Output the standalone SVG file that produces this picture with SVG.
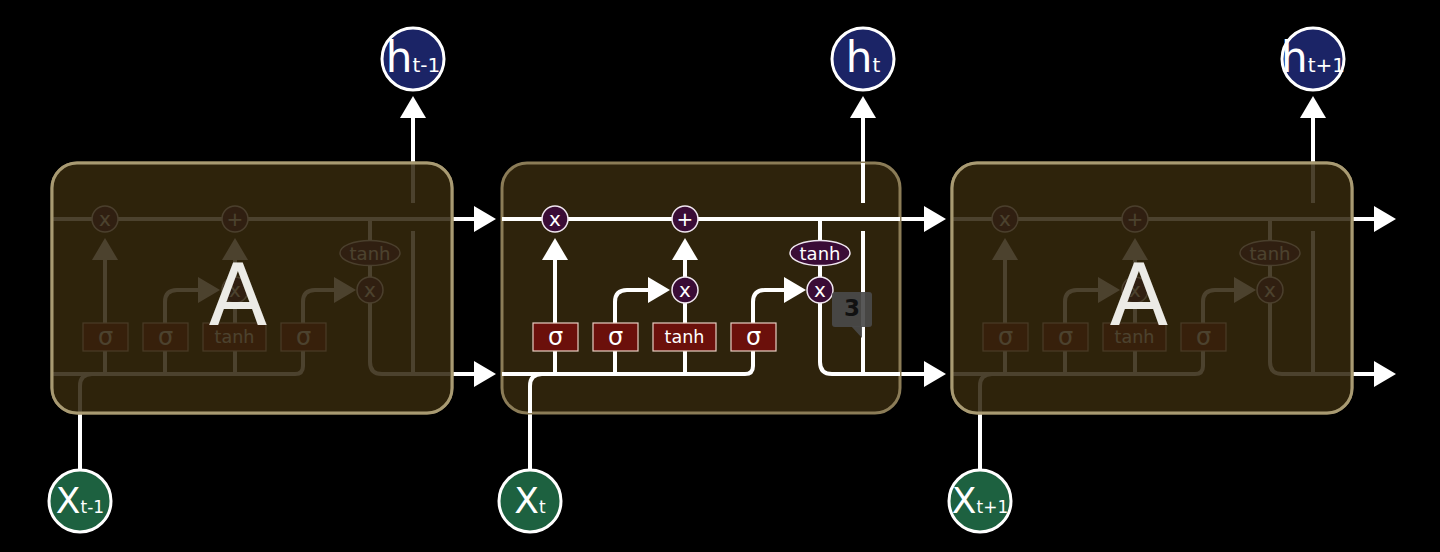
<svg xmlns="http://www.w3.org/2000/svg" width="1440" height="552" viewBox="0 0 1440 552">
<style>
.ln{fill:none;stroke:#fff;stroke-width:4}
.op{fill:#3a0c36;stroke:#f0e6f0;stroke-width:1.5}
.gate{fill:#6b100b;stroke:#e8cfc4;stroke-width:1.2}
.t{font-family:"DejaVu Sans","Liberation Sans",sans-serif;fill:#fff;text-anchor:middle}
.cell{fill:#2e230c;stroke:#8b7c57;stroke-width:3}
.veil{fill:#2e230c;fill-opacity:.86;stroke:#a89a72;stroke-width:3}
.hc{fill:#1b2466;stroke:#fff;stroke-width:3}
.xc{fill:#1d6140;stroke:#fff;stroke-width:3}
.big{font-size:86px;fill:#ecebe6}
</style>
<defs>
<marker id="ah" markerUnits="userSpaceOnUse" markerWidth="22" markerHeight="26" viewBox="0 0 22 26" refX="1" refY="13" orient="auto"><path d="M0,0 L22,13 L0,26 Z" fill="#fff"/></marker>
<g id="core">
<path class="ln" d="M502,219 H900"/>
<path class="ln" d="M502,374 H745 Q753,374 753,366 V351"/>
<path class="ln" d="M530,413 V386 Q530,374 542,374"/>
<path class="ln" d="M555,374 V351 M615,374 V351 M685,374 V351 M685,323 V303"/>
<path class="ln" d="M555,323 V259" marker-end="url(#ah)"/>
<path class="ln" d="M615,323 V302 Q615,290 627,290 H649" marker-end="url(#ah)"/>
<path class="ln" d="M685,277 V259" marker-end="url(#ah)"/>
<path class="ln" d="M753,323 V302 Q753,290 765,290 H785" marker-end="url(#ah)"/>
<path class="ln" d="M820,219 V241 M820,265 V277"/>
<path class="ln" d="M820,303 V362 Q820,374 832,374 H900"/>
<path class="ln" d="M863,374 V231 M863,203 V163"/>
<g id="op-forget"><circle class="op" cx="555" cy="219" r="13"/><text class="t" x="555" y="226" font-size="20">x</text></g>
<g id="op-add"><circle class="op" cx="685" cy="219" r="13"/><text class="t" x="685" y="226" font-size="20">+</text></g>
<g id="op-input"><circle class="op" cx="685" cy="290" r="13"/><text class="t" x="685" y="297" font-size="20">x</text></g>
<g id="op-output"><circle class="op" cx="820" cy="290" r="13"/><text class="t" x="820" y="297" font-size="20">x</text></g>
<g id="op-tanh"><ellipse class="op" cx="820" cy="253" rx="30" ry="12.5"/><text class="t" x="820" y="260" font-size="18">tanh</text></g>
<g id="gate-f"><rect class="gate" x="533" y="323" width="45" height="28"/><text class="t" x="555.5" y="345" font-size="24">σ</text></g>
<g id="gate-i"><rect class="gate" x="593" y="323" width="45" height="28"/><text class="t" x="615.5" y="345" font-size="24">σ</text></g>
<g id="gate-c"><rect class="gate" x="653" y="323" width="63" height="28"/><text class="t" x="684.5" y="343" font-size="17.5">tanh</text></g>
<g id="gate-o"><rect class="gate" x="731" y="323" width="45" height="28"/><text class="t" x="753.5" y="345" font-size="24">σ</text></g>
</g>
</defs>
<rect width="1440" height="552" fill="#000"/>

<g id="connectors">
<path class="ln" d="M80,470 V413 M530,470 V413 M980,470 V413"/>
<path class="ln" d="M413,163 V117" marker-end="url(#ah)"/>
<path class="ln" d="M863,163 V117" marker-end="url(#ah)"/>
<path class="ln" d="M1313,163 V117" marker-end="url(#ah)"/>
<path class="ln" d="M450,219 H475" marker-end="url(#ah)"/>
<path class="ln" d="M450,374 H475" marker-end="url(#ah)"/>
<path class="ln" d="M900,219 H925" marker-end="url(#ah)"/>
<path class="ln" d="M900,374 H925" marker-end="url(#ah)"/>
<path class="ln" d="M1350,219 H1375" marker-end="url(#ah)"/>
<path class="ln" d="M1350,374 H1375" marker-end="url(#ah)"/>
</g>

<g id="cell-prev">
<rect class="cell" x="52" y="163" width="400" height="250" rx="25"/>
<use href="#core" transform="translate(-450,0)"/>
<rect class="veil" x="52" y="163" width="400" height="250" rx="25"/>
<text class="t big" x="238" y="325">A</text>
</g>

<g id="cell-now">
<rect class="cell" x="502" y="163" width="398" height="250" rx="25"/>
<use href="#core"/>
<g id="badge">
<rect x="832" y="292" width="40" height="35" rx="3" fill="#4a4a4a" fill-opacity="0.92"/>
<path d="M851,326 L862,326 L862,338 Z" fill="#4a4a4a" fill-opacity="0.92"/>
<text x="852" y="316" font-family="'DejaVu Sans',sans-serif" font-weight="bold" font-size="23" fill="#111" text-anchor="middle">3</text>
</g>
</g>

<g id="cell-next">
<rect class="cell" x="952" y="163" width="400" height="250" rx="25"/>
<use href="#core" transform="translate(450,0)"/>
<rect class="veil" x="952" y="163" width="400" height="250" rx="25"/>
<text class="t big" x="1139" y="325">A</text>
</g>

<g id="h-prev"><circle class="hc" cx="413" cy="59" r="31"/><text class="t" x="413" y="72" font-size="42">h<tspan font-size="20">t-1</tspan></text></g>
<g id="h-now"><circle class="hc" cx="863" cy="59" r="31"/><text class="t" x="863" y="72" font-size="42">h<tspan font-size="20">t</tspan></text></g>
<g id="h-next"><circle class="hc" cx="1313" cy="59" r="31"/><text class="t" x="1313" y="72" font-size="42">h<tspan font-size="20">t+1</tspan></text></g>

<g id="x-prev"><circle class="xc" cx="80" cy="501" r="31"/><text class="t" x="80" y="513" font-size="36">X<tspan font-size="17">t-1</tspan></text></g>
<g id="x-now"><circle class="xc" cx="530" cy="501" r="31"/><text class="t" x="530" y="513" font-size="36">X<tspan font-size="17">t</tspan></text></g>
<g id="x-next"><circle class="xc" cx="980" cy="501" r="31"/><text class="t" x="980" y="513" font-size="36">X<tspan font-size="17">t+1</tspan></text></g>
</svg>
